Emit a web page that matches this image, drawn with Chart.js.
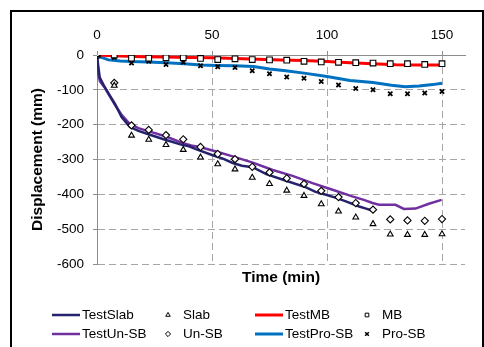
<!DOCTYPE html>
<html>
<head>
<meta charset="utf-8">
<script src="https://cdn.jsdelivr.net/npm/chart.js@4.4.1/dist/chart.umd.min.js"></script>
<style>
  html, body { margin: 0; padding: 0; background: #fff; }
  #wrap { position: relative; width: 484px; height: 347px; overflow: hidden; }
</style>
</head>
<body>
<div id="wrap"><canvas id="dispChart" width="484" height="347"></canvas></div>
<script>
// Measured points (every 7.5 min)
const markerTimes = [0, 7.5, 15, 22.5, 30, 37.5, 45, 52.5, 60, 67.5, 75, 82.5, 90, 97.5, 105, 112.5, 120, 127.5, 135, 142.5, 150];
const slab = [0, -88, -231, -243, -258, -272, -294, -313, -328, -352, -370, -389, -404, -428, -449, -466, -485, -515, -516, -516, -514];
const mb = [0, 0, -9, -9, -8, -8, -10, -13, -11, -13, -14, -15, -18, -20, -21, -22, -23, -25, -25, -27, -25];
const unSB = [0, -80, -202, -215, -230, -242, -264, -284, -299, -321, -337, -354, -370, -390, -408, -425, -444, -472, -475, -476, -471];
const proSB = [0, -7, -23, -18, -27, -21, -31, -34, -36, -45, -54, -63, -67, -76, -86, -96, -100, -111, -111, -109, -105];

// Test curves
const testSlabTime = [0, 0.5, 1.2, 3, 5, 7.8, 10.7, 14.3, 18, 23, 30, 37, 40, 43, 50, 55, 59, 63, 67.7, 73.6, 82.2, 90.9, 95, 99.6, 104, 108.2, 114, 117, 120];
const testSlab = [0, -30, -65, -88, -110, -140, -178, -207, -218, -229, -244, -258, -262, -270, -287, -298, -310, -318, -322, -342, -361, -380, -393, -401, -410, -420, -435, -441, -447];
const testUnSBTime = [0, 0.6, 1.3, 3.5, 5.6, 7.8, 10.7, 14.3, 18, 23, 30, 37.4, 41, 45, 51.8, 59, 67.7, 76.4, 85, 93.7, 102.4, 111, 116, 119.8, 122.6, 129.8, 133.4, 138.5, 144.3, 149.8];
const testUnSB = [0, -57, -76, -95, -119, -143, -172, -198, -210, -220, -234, -253, -260, -265, -277, -291, -309, -330, -347, -368, -387, -406, -416, -425, -430, -430, -442, -441, -427, -416];
const testMBTime = [0, 10, 20, 30, 40, 50, 60, 70, 80, 90, 100, 110, 120, 130, 140, 150];
const testMB = [0, -3, -5, -6, -7, -8, -10, -12, -14, -16, -19, -22, -25, -28, -29, -29];
const testProSBTime = [0, 2, 5, 10, 15, 22, 30, 38, 45, 52, 60, 68, 75, 82, 90, 100, 110, 120, 128, 134, 140, 146, 150];
const testProSB = [0, -7, -14, -17, -19, -20, -22, -25, -29, -30, -31, -33, -40, -45, -52, -62, -73, -79, -87, -91, -89, -85, -81];

const xTicks = [0, 50, 100, 150];

const FONT = "'Liberation Sans', Arial, sans-serif";

function pairs(xs, ys) {
  return xs.map((x, i) => ({ x: x, y: ys[i] }));
}

function lineSet(label, xs, ys, color, width) {
  return {
    label: label, data: pairs(xs, ys), borderColor: color, backgroundColor: color,
    borderWidth: width, pointRadius: 0, showLine: true, tension: 0, order: 2
  };
}
function markSet(label, ys, style, radius, width) {
  return {
    label: label, data: pairs(markerTimes, ys), showLine: false,
    pointStyle: style, pointRadius: radius, borderColor: '#000',
    backgroundColor: '#fff', borderWidth: width, order: 1
  };
}

const datasets = [
  lineSet('TestSlab', testSlabTime, testSlab, '#25236d', 2.5),
  markSet('Slab', slab, 'triangle', 3.3, 1.1),
  lineSet('TestMB', testMBTime, testMB, '#ff0000', 3),
  markSet('MB', mb, 'rect', 4, 1.1),
  lineSet('TestUn-SB', testUnSBTime, testUnSB, '#7030a0', 2.5),
  markSet('Un-SB', unSB, 'rectRot', 3.6, 1.1),
  lineSet('TestPro-SB', testProSBTime, testProSB, '#0070c0', 3),
  markSet('Pro-SB', proSB, 'crossRot', 3, 1.8)
];

// frame, bottom axis title and the 4x2 legend
const decorPlugin = {
  id: 'decor',
  beforeDraw(chart) {
    const ctx = chart.ctx;
    ctx.save();
    ctx.strokeStyle = '#000';
    ctx.lineWidth = 2;
    ctx.strokeRect(11, 11, 472, 345);
    ctx.restore();
  },
  afterDraw(chart) {
    const ctx = chart.ctx;
    const area = chart.chartArea;
    ctx.save();
    ctx.fillStyle = '#000';
    ctx.font = 'bold 15.5px ' + FONT;
    ctx.textAlign = 'center';
    ctx.textBaseline = 'middle';
    ctx.fillText('Time (min)', (area.left + area.right) / 2, area.bottom + 14);

    const colX = [52, 168, 255, 367];
    const rowY = [315, 334];
    ctx.font = '13.5px ' + FONT;
    ctx.textAlign = 'left';
    chart.data.datasets.forEach((ds, i) => {
      const col = i % 4, row = Math.floor(i / 4);
      const x = colX[col], y = rowY[row];
      if (ds.showLine) {
        ctx.strokeStyle = ds.borderColor;
        ctx.lineWidth = ds.borderWidth;
        ctx.beginPath();
        ctx.moveTo(x, y);
        ctx.lineTo(x + 28, y);
        ctx.stroke();
        ctx.fillStyle = '#000';
        ctx.fillText(ds.label, x + 30, y);
      } else {
        ctx.strokeStyle = '#000';
        ctx.fillStyle = '#fff';
        ctx.lineWidth = ds.pointStyle === 'crossRot' ? 1.5 : 1;
        Chart.helpers.drawPoint(ctx, { pointStyle: ds.pointStyle, radius: 2.6, rotation: 0, borderWidth: ctx.lineWidth }, x, y);
        ctx.fillStyle = '#000';
        ctx.fillText(ds.label, x + 15, y);
      }
    });
    ctx.restore();
  }
};

new Chart(document.getElementById('dispChart'), {
  type: 'scatter',
  data: { datasets: datasets },
  plugins: [decorPlugin],
  options: {
    responsive: false,
    animation: false,
    devicePixelRatio: 1,
    layout: { padding: { left: 20, top: 18, right: 19, bottom: 83 } },
    plugins: { legend: { display: false }, tooltip: { enabled: false } },
    scales: {
      x: {
        type: 'linear',
        position: 'top',
        min: 0,
        max: 160,
        afterBuildTicks(scale) { scale.ticks = xTicks.map(v => ({ value: v })); },
        afterFit(scale) { scale.height = 37; },
        ticks: { color: '#000', font: { family: FONT, size: 13.5 }, padding: 8, maxRotation: 0 },
        grid: { color: '#a6a6a6', tickColor: '#8c8c8c', tickLength: 4, lineWidth: 1 },
        border: { display: true, color: '#8c8c8c', width: 1, dash: [7, 4] }
      },
      y: {
        min: -600,
        max: 0,
        ticks: { stepSize: 100, color: '#000', font: { family: FONT, size: 13.5 }, padding: 9 },
        afterFit(scale) { scale.width = 77; },
        grid: { color: '#a6a6a6', tickColor: '#8c8c8c', tickLength: 4, lineWidth: 1 },
        border: { display: true, color: '#8c8c8c', width: 1, dash: [7, 4] },
        title: {
          display: true, text: 'Displacement (mm)', color: '#000',
          font: { family: FONT, size: 15.5, weight: 'bold' }, padding: { top: 8, bottom: 0 }
        }
      }
    }
  }
});
</script>
</body>
</html>
